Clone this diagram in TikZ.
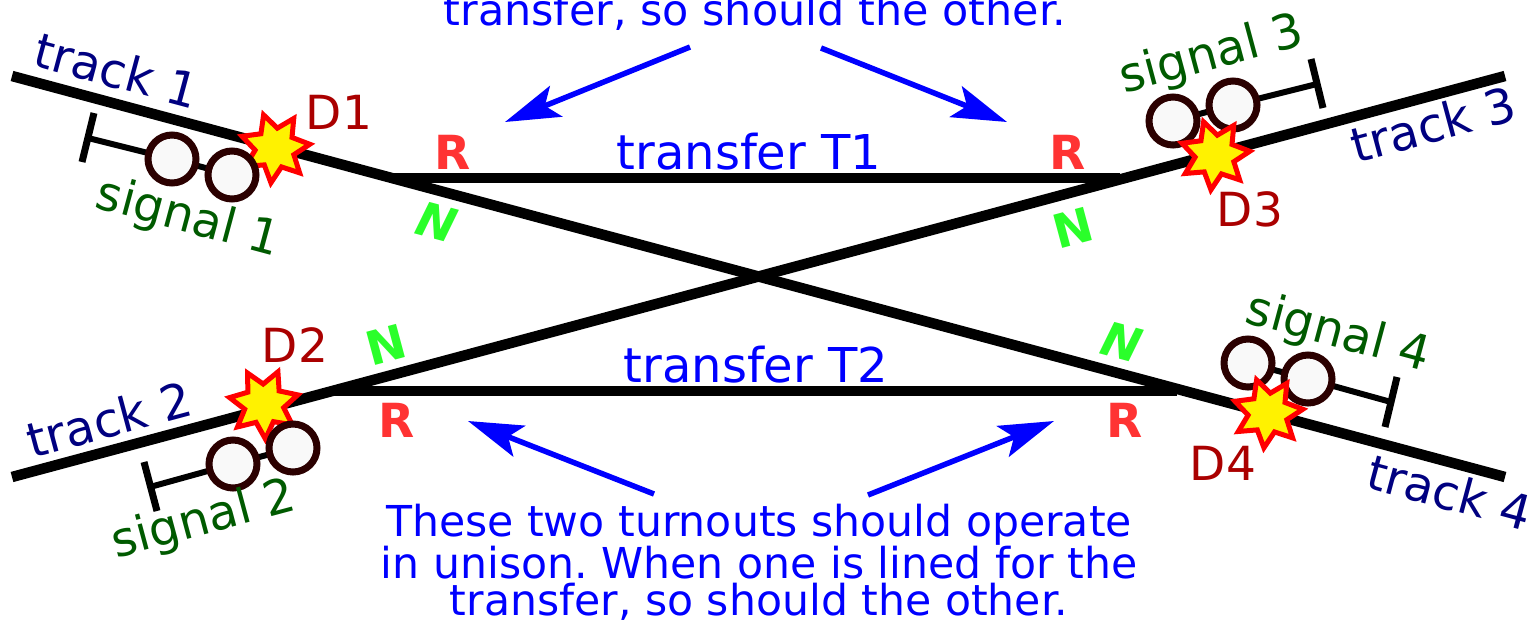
\documentclass[tikz,border=0pt]{standalone}
\usepackage{fontspec}
\setmainfont{DejaVu Sans}
\usetikzlibrary{shapes.geometric,arrows.meta}
\definecolor{trk}{HTML}{000080}
\definecolor{sigc}{HTML}{005A00}
\definecolor{dc}{HTML}{AA0000}
\definecolor{rc}{HTML}{FF3333}
\definecolor{nc}{HTML}{2AFF2A}
\definecolor{lamp}{HTML}{2B0000}
\definecolor{lampfill}{HTML}{F9F9F9}
\tikzset{
  x=1pt,y=-1pt,
  rail/.style={line width=10.5pt,black},
  stem/.style={line width=6pt,black},
  bar/.style={line width=7pt,black},
  lampc/.style={circle,draw=lamp,fill=lampfill,line width=7pt,minimum size=48pt,inner sep=0pt,outer sep=0pt},
  burst/.style={star,star points=7,star point ratio=1.75,minimum size=70pt,inner sep=0pt,outer sep=0pt,draw=red,fill=yellow,line width=5pt,miter limit=10},
  lbl/.style={font=\fontsize{#1}{#1}\selectfont,inner sep=0pt},
  trklbl/.style={lbl=48,text=trk},
  siglbl/.style={lbl=48,text=sigc},
  dlbl/.style={lbl=47,text=dc},
  rlbl/.style={text=rc,inner sep=0pt,font=\fontsize{47}{47}\selectfont\bfseries},
  nlbl/.style={text=nc,inner sep=0pt,font=\fontsize{47}{47}\selectfont\bfseries},
  nobl/.style={text=nc,inner sep=0pt,font=\fontsize{47}{47}\selectfont\bfseries\itshape},
  tlbl/.style={lbl=48,text=blue},
  note/.style={font=\fontsize{42.6}{37}\selectfont\frenchspacing,text=blue,align=center,inner sep=0pt},
  callout/.style={line width=5.5pt,blue,-{Stealth[length=55pt,width=33pt,inset=12pt]}}
}
\begin{document}
\begin{tikzpicture}
\useasboundingbox (0,0) rectangle (1533,622);
% tracks
\coordinate (t1a) at (12,76);
\coordinate (t4b) at (1505,477);
\coordinate (t2a) at (12,477);
\coordinate (t3b) at (1505,76);
\coordinate (x1a) at (390,178);
\coordinate (x1b) at (1120,178);
\coordinate (x2a) at (332,391);
\coordinate (x2b) at (1177,391);
\draw[rail] (t1a) -- (t4b);
\draw[rail] (t2a) -- (t3b);
\draw[rail] (x1a) -- (x1b);
\draw[rail] (x2a) -- (x2b);
% signal 1
\node[burst,shape border rotate=19] (d1) at (275,148) {};
\coordinate (b1a) at (94,113); \coordinate (b1b) at (82,162); \coordinate (b1m) at (88,138);
\coordinate (s1a) at (172,159);
\coordinate (s1b) at (232,175);
\draw[bar] (b1a) -- (b1b);
\draw[stem] (b1m) -- (s1a);
\draw[stem] (s1a) -- (s1b);
\node[lampc] at (s1a) {};
\node[lampc] at (s1b) {};
% signal 2
\node[burst,shape border rotate=28] (d2) at (264,404) {};
\coordinate (b2a) at (144,462); \coordinate (b2b) at (157,511); \coordinate (b2m) at (150,487);
\coordinate (s2a) at (233,464);
\coordinate (s2b) at (293,448);
\draw[bar] (b2a) -- (b2b);
\draw[stem] (b2m) -- (s2a);
\draw[stem] (s2a) -- (s2b);
\node[lampc] at (s2a) {};
\node[lampc] at (s2b) {};
% signal 3
\coordinate (b3a) at (1311,59); \coordinate (b3b) at (1323,108); \coordinate (b3m) at (1317,84);
\coordinate (s3a) at (1233,105);
\coordinate (s3b) at (1173,121);
\draw[bar] (b3a) -- (b3b);
\draw[stem] (b3m) -- (s3a);
\draw[stem] (s3a) -- (s3b);
\node[lampc] at (s3a) {};
\node[lampc] at (s3b) {};
\node[burst,shape border rotate=19] (d3) at (1215,155) {};
% signal 4
\coordinate (b4a) at (1397,377); \coordinate (b4b) at (1385,427); \coordinate (b4m) at (1391,402);
\coordinate (s4a) at (1248,363);
\coordinate (s4b) at (1308,379);
\draw[bar] (b4a) -- (b4b);
\draw[stem] (b4m) -- (s4b);
\draw[stem] (s4a) -- (s4b);
\node[lampc] at (s4a) {};
\node[lampc] at (s4b) {};
\node[burst,shape border rotate=19] (d4) at (1268,413) {};
% labels
\node[trklbl,rotate=-15] (l1) at (117,70) {track 1};
\node[trklbl,rotate=15] (l2) at (109,419) {track 2};
\node[trklbl,rotate=15] (l3) at (1433,124) {track 3};
\node[trklbl,rotate=-15] (l4) at (1450,492) {track 4};
\node[siglbl,rotate=-15] (g1) at (188,219) {signal 1};
\node[siglbl,rotate=15] (g2) at (204,521) {signal 2};
\node[siglbl,rotate=15] (g3) at (1212,56) {signal 3};
\node[siglbl,rotate=-15] (g4) at (1338,334) {signal 4};
\node[dlbl] (e1) at (339,112) {D1};
\node[dlbl] (e2) at (295,345) {D2};
\node[dlbl] (e3) at (1250,209) {D3};
\node[dlbl] (e4) at (1223,463) {D4};
\node[rlbl] (r1) at (453,152) {R};
\node[rlbl] (r3) at (1068,152) {R};
\node[rlbl] (r2) at (397,420) {R};
\node[rlbl] (r4) at (1125,420) {R};
\node[nobl,rotate=-15] (n1) at (437,222) {N};
\node[nlbl,rotate=15] (n3) at (1073,228) {N};
\node[nlbl,rotate=15] (n2) at (386,345) {N};
\node[nobl,rotate=-15] (n4) at (1122,342) {N};
\node[tlbl] (tt1) at (749,152) {transfer T1};
\node[tlbl] (tt2) at (756,365) {transfer T2};
\node[note,font=\fontsize{42.9}{37}\selectfont\frenchspacing] (top) at (755,12) {transfer, so should the other.};
\node[note] (bot) at (759,562) {These two turnouts should operate\\in unison. When one is lined for the\\transfer, so should the other.};
% callouts
\coordinate (c1s) at (690,47); \coordinate (c1e) at (505,122);
\coordinate (c2s) at (821,48); \coordinate (c2e) at (1007,122);
\coordinate (c3s) at (654,494); \coordinate (c3e) at (468,421);
\coordinate (c4s) at (868,495); \coordinate (c4e) at (1054,421);
\draw[callout] (c1s) -- (c1e);
\draw[callout] (c2s) -- (c2e);
\draw[callout] (c3s) -- (c3e);
\draw[callout] (c4s) -- (c4e);
\end{tikzpicture}
\end{document}
